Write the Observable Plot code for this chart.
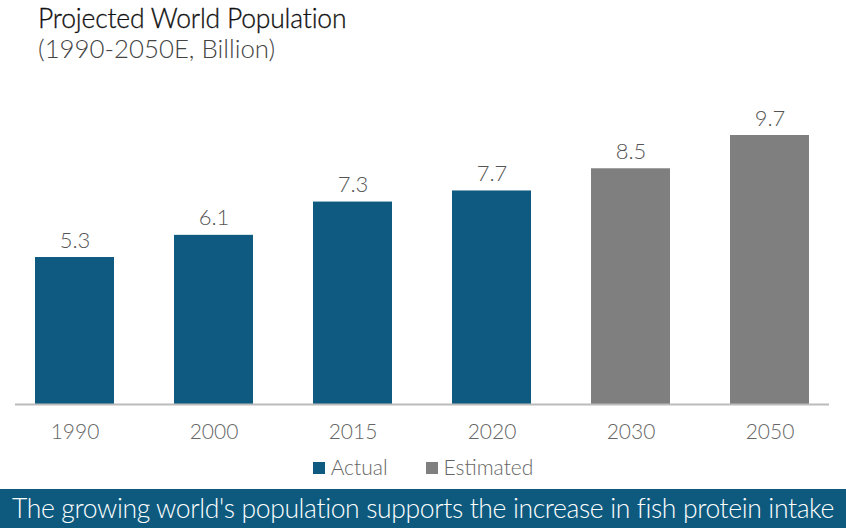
<!DOCTYPE html>
<html><head><meta charset="utf-8">
<script src="https://cdn.jsdelivr.net/npm/d3@7"></script>
<script src="https://cdn.jsdelivr.net/npm/@observablehq/plot@0.6"></script>
<style>
body{margin:0;width:846px;height:528px;position:relative;overflow:hidden;background:#fff;font-family:Lato,sans-serif;}
#title{position:absolute;left:38px;top:2px;font-size:26.5px;color:#111;letter-spacing:-0.2px;font-weight:300;-webkit-text-stroke:0.3px #111;}
#sub{position:absolute;left:38px;top:33px;font-size:25.8px;color:#444;font-weight:300;}
#chart{position:absolute;left:0;top:70px;}
#legend{position:absolute;left:0;width:846px;top:454px;text-align:center;font-size:21px;color:#666;font-weight:300;}
#legend span.sw{display:inline-block;width:12px;height:12px;margin-right:6px;vertical-align:1px;}
#legend span.item{margin:0 19px;}
#banner{position:absolute;left:0;top:489px;width:846px;height:39px;background:#0e5a7e;color:#fff;font-size:26.5px;line-height:39px;text-align:center;white-space:nowrap;letter-spacing:-0.36px;font-weight:300;}
</style></head>
<body>
<div id="title">Projected World Population</div>
<div id="sub">(1990-2050E, Billion)</div>
<div id="chart"></div>
<div id="legend"></div>
<div id="banner">The growing world's population supports the increase in fish protein intake</div>
<script>
const years = ["1990","2000","2015","2020","2030","2050"];
const population = [5.3, 6.1, 7.3, 7.7, 8.5, 9.7];
const kinds = ["Actual","Actual","Actual","Actual","Estimated","Estimated"];
const seriesNames = ["Actual","Estimated"];
const seriesColors = ["#0e5a80","#7f7f7f"];

const data = years.map((y,i)=>({year:y, value:population[i], kind:kinds[i]}));

const chart = Plot.plot({
  width:846, height:380,
  marginLeft:15, marginRight:17, marginTop:65, marginBottom:46,
  style:{fontFamily:"Lato, sans-serif", fontSize:"21px", fontWeight:300, color:"#666", background:"transparent"},
  x:{domain:years, paddingInner:0.43, paddingOuter:0.14, label:null, tickSize:0, tickPadding:20},
  y:{domain:[0,9.7], axis:null},
  color:{domain:seriesNames, range:seriesColors},
  marks:[
    Plot.barY(data,{x:"year", y:"value", fill:"kind"}),
    Plot.ruleY([0],{stroke:"#bbb", strokeWidth:2}),
    Plot.text(data,{x:"year", y:"value", text:d=>d.value.toFixed(1), dy:-17, fill:"#555", fontSize:22, fontWeight:300})
  ]
});
document.getElementById("chart").appendChild(chart);

const leg = document.getElementById("legend");
seriesNames.forEach((n,i)=>{
  const it = document.createElement("span"); it.className="item";
  const sw = document.createElement("span"); sw.className="sw"; sw.style.background=seriesColors[i];
  it.appendChild(sw); it.appendChild(document.createTextNode(n));
  leg.appendChild(it);
});
</script>
</body></html>
